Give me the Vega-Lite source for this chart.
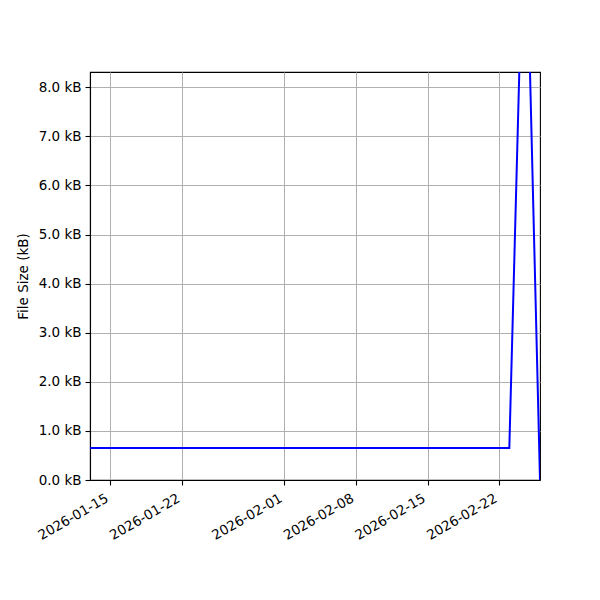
{
  "$schema": "https://vega.github.io/schema/vega-lite/v6.json",
  "autosize": {"type": "none"},
  "padding": {"left": 90, "top": 72, "right": 60, "bottom": 120},
  "width": 450,
  "height": 408,
  "background": "white",
  "config": {
    "font": "DejaVu Sans",
    "view": {"stroke": "black", "strokeWidth": 1.1}
  },
  "data": {
    "values": [
      {"date": "2026-01-13", "size": 0.65},
      {"date": "2026-01-14", "size": 0.65},
      {"date": "2026-01-15", "size": 0.65},
      {"date": "2026-01-16", "size": 0.65},
      {"date": "2026-01-17", "size": 0.65},
      {"date": "2026-01-18", "size": 0.65},
      {"date": "2026-01-19", "size": 0.65},
      {"date": "2026-01-20", "size": 0.65},
      {"date": "2026-01-21", "size": 0.65},
      {"date": "2026-01-22", "size": 0.65},
      {"date": "2026-01-23", "size": 0.65},
      {"date": "2026-01-24", "size": 0.65},
      {"date": "2026-01-25", "size": 0.65},
      {"date": "2026-01-26", "size": 0.65},
      {"date": "2026-01-27", "size": 0.65},
      {"date": "2026-01-28", "size": 0.65},
      {"date": "2026-01-29", "size": 0.65},
      {"date": "2026-01-30", "size": 0.65},
      {"date": "2026-01-31", "size": 0.65},
      {"date": "2026-02-01", "size": 0.65},
      {"date": "2026-02-02", "size": 0.65},
      {"date": "2026-02-03", "size": 0.65},
      {"date": "2026-02-04", "size": 0.65},
      {"date": "2026-02-05", "size": 0.65},
      {"date": "2026-02-06", "size": 0.65},
      {"date": "2026-02-07", "size": 0.65},
      {"date": "2026-02-08", "size": 0.65},
      {"date": "2026-02-09", "size": 0.65},
      {"date": "2026-02-10", "size": 0.65},
      {"date": "2026-02-11", "size": 0.65},
      {"date": "2026-02-12", "size": 0.65},
      {"date": "2026-02-13", "size": 0.65},
      {"date": "2026-02-14", "size": 0.65},
      {"date": "2026-02-15", "size": 0.65},
      {"date": "2026-02-16", "size": 0.65},
      {"date": "2026-02-17", "size": 0.65},
      {"date": "2026-02-18", "size": 0.65},
      {"date": "2026-02-19", "size": 0.65},
      {"date": "2026-02-20", "size": 0.65},
      {"date": "2026-02-21", "size": 0.65},
      {"date": "2026-02-22", "size": 0.65},
      {"date": "2026-02-23", "size": 0.65},
      {"date": "2026-02-24", "size": 8.5},
      {"date": "2026-02-25", "size": 8.5},
      {"date": "2026-02-26", "size": 0.0}
    ]
  },
  "mark": {"type": "line", "color": "#0000ff", "strokeWidth": 2, "clip": true},
  "encoding": {
    "x": {
      "field": "date",
      "type": "temporal",
      "scale": {
        "type": "utc",
        "domain": [
          {"year": 2026, "month": 1, "date": 13, "utc": true},
          {"year": 2026, "month": 2, "date": 26, "utc": true}
        ],
        "nice": false
      },
      "axis": {
        "title": null,
        "values": [
          {"year": 2026, "month": 1, "date": 15, "utc": true},
          {"year": 2026, "month": 1, "date": 22, "utc": true},
          {"year": 2026, "month": 2, "date": 1, "utc": true},
          {"year": 2026, "month": 2, "date": 8, "utc": true},
          {"year": 2026, "month": 2, "date": 15, "utc": true},
          {"year": 2026, "month": 2, "date": 22, "utc": true}
        ],
        "labelExpr": "utcFormat(datum.value, '%Y-%m-%d')",
        "labelAngle": -30,
        "labelAlign": "right",
        "labelBaseline": "top",
        "labelFontSize": 13.5,
        "labelColor": "black",
        "labelPadding": 6,
        "labelOffset": -7,
        "labelFlush": false,
        "labelOverlap": false,
        "grid": true,
        "gridColor": "#b0b0b0",
        "gridWidth": 1,
        "domainColor": "black",
        "domainWidth": 1.1,
        "tickColor": "black",
        "tickSize": 5,
        "tickWidth": 1.1
      }
    },
    "y": {
      "field": "size",
      "type": "quantitative",
      "scale": {"domain": [0, 8.31], "nice": false, "zero": true},
      "axis": {
        "title": "File Size (kB)",
        "titleFontSize": 13.5,
        "titleFontWeight": "normal",
        "titleColor": "black",
        "titlePadding": 8,
        "values": [0, 1, 2, 3, 4, 5, 6, 7, 8],
        "labelExpr": "format(datum.value, '.1f') + ' kB'",
        "labelFontSize": 13.5,
        "labelColor": "black",
        "labelPadding": 4,
        "labelFlush": false,
        "grid": true,
        "gridColor": "#b0b0b0",
        "gridWidth": 1,
        "domainColor": "black",
        "domainWidth": 1.1,
        "tickColor": "black",
        "tickSize": 5,
        "tickWidth": 1.1
      }
    }
  }
}
